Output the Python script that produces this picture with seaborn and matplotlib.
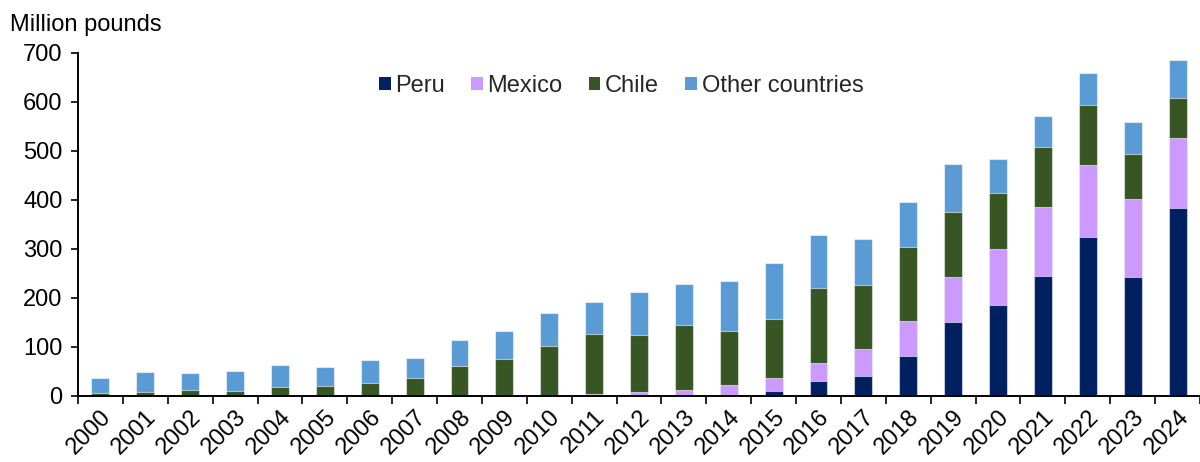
import matplotlib
matplotlib.use("Agg")
import matplotlib.pyplot as plt
from matplotlib.patches import Patch
from matplotlib.ticker import FixedLocator
import numpy as np
import pandas as pd
import seaborn as sns

years = [str(y) for y in range(2000, 2025)]
peru = [0, 0, 0, 0, 0, 0, 0, 0, 0, 0, 0, 0, 0, 0, 0,
        10, 31, 41, 82, 150, 185, 245, 323, 242, 384]
mexico = [0, 0, 0, 0, 0, 0, 0, 0, 0, 0, 0, 4, 7.5, 11, 21,
          26, 36, 54, 70, 92, 114, 141, 147, 160, 141]
chile = [5.5, 7.5, 11, 9.6, 18, 20, 26, 37, 61, 74, 102, 122.5, 117, 134, 112,
         120, 153, 131.5, 152, 133.5, 115, 122, 124, 91, 83]
other = [30.5, 41.5, 35, 41.5, 45, 38, 46, 39, 53, 59, 67, 65.5, 87.5, 83, 102,
         114, 108, 93.5, 91, 96.5, 69, 63, 64, 65.6, 76.5]

series = ["Peru", "Mexico", "Chile", "Other countries"]
colors = ["#002060", "#CC99FF", "#375623", "#5B9BD5"]

df = pd.DataFrame({"year": years, "Peru": peru, "Mexico": mexico,
                   "Chile": chile, "Other countries": other})

sns.set_theme(style="white")
plt.rcParams["font.family"] = ["Liberation Sans", "DejaVu Sans"]
FS = 17

fig = plt.figure(figsize=(12, 4.62), dpi=100)
ax = fig.add_axes([0.065, 0.1435, 0.935, 0.7425])

# Stacked bars: draw cumulative totals from the top layer down
cum = df[series].cumsum(axis=1)
for name, col in reversed(list(zip(series, colors))):
    sns.barplot(x=df["year"], y=cum[name], color=col, width=0.4,
                edgecolor=(1, 1, 1, 0.55), linewidth=0.8,
                saturation=1, ax=ax, zorder=2)

ax.set_ylim(0, 700)
ax.set_xlim(-0.5, len(years) - 0.5)
ax.set_yticks(range(0, 701, 100))
ax.set_xlabel("")
ax.set_ylabel("")

for s in ["top", "right"]:
    ax.spines[s].set_visible(False)
for s in ["left", "bottom"]:
    ax.spines[s].set_color("black")
    ax.spines[s].set_linewidth(1.4)

ax.tick_params(axis="y", which="major", direction="out", length=5, width=1.2,
               color="black", labelsize=FS, labelcolor="black", pad=6, left=True)
ax.tick_params(axis="x", which="major", length=0, labelsize=FS,
               labelcolor="black", pad=7.5)
ax.xaxis.set_minor_locator(FixedLocator(np.arange(-0.5, len(years), 1.0)))
ax.tick_params(axis="x", which="minor", direction="out", length=6, width=1.2,
               color="black", bottom=True)
for lbl in ax.get_xticklabels():
    lbl.set_rotation(45)
    lbl.set_ha("right")
    lbl.set_rotation_mode("anchor")

fig.text(0.008, 0.945, "Million pounds", fontsize=FS, ha="left", va="center",
         color="black")

handles = [Patch(facecolor=c, edgecolor="none", label=n) for n, c in zip(series, colors)]
ax.legend(handles=handles, loc="center", bbox_to_anchor=(0.484, 0.903), ncol=4,
          frameon=False, fontsize=FS, handlelength=0.5, handleheight=0.5,
          handletextpad=0.2, columnspacing=1.1)

fig.savefig("out.png", dpi=100)
